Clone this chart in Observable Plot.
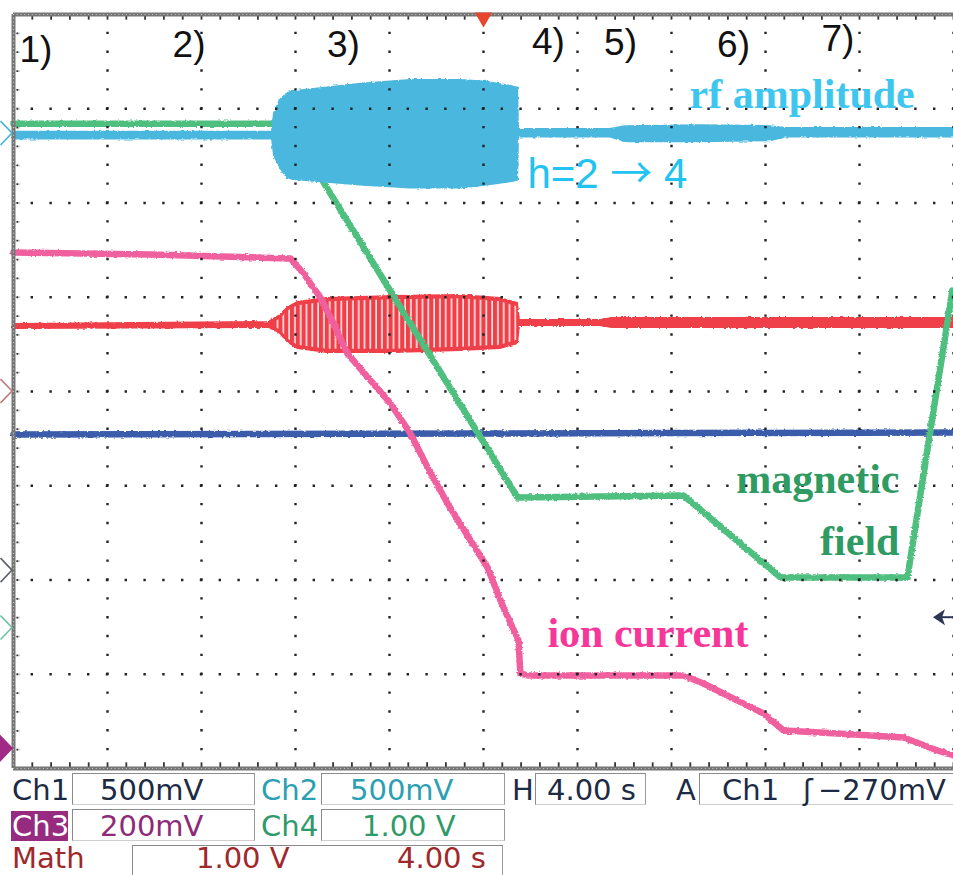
<!DOCTYPE html>
<html><head><meta charset="utf-8">
<script src="https://cdn.jsdelivr.net/npm/d3@7"></script>
<script src="https://cdn.jsdelivr.net/npm/@observablehq/plot@0.6"></script>
<style>
html,body{margin:0;padding:0;background:#fff;width:953px;height:875px;overflow:hidden;}
#wrap{position:relative;width:953px;height:875px;overflow:hidden;}
#status{position:absolute;left:0;top:0;width:953px;height:875px;font-family:"DejaVu Sans",sans-serif;font-size:29px;pointer-events:none;}
.lab{position:absolute;line-height:1;white-space:nowrap;}
.box{position:absolute;box-sizing:border-box;border-top:1.5px solid #8a8a8a;border-left:1.5px solid #8a8a8a;border-right:1.5px solid #9a9a9a;border-bottom:1px solid #cfcfcf;}
</style></head>
<body><div id="wrap"><div id="chart"></div><div id="status"></div></div>
<script>
// ---------- data (time in s, 4 s/div; values in vertical divisions) ----------
// rf amplitude (envelope of the rf signal)
const rfTime  = [0, 11.02, 11.11, 11.36, 11.66, 11.91, 13.36, 14.77, 16.89, 19.02, 20.17, 21.28, 21.45, 21.49, 25.40, 26.04, 29.23, 32.21, 32.85, 40.0];
const rfUpper = [2.75, 2.75, 2.95, 3.09, 3.16, 3.18, 3.22, 3.26, 3.30, 3.30, 3.28, 3.23, 3.22, 2.78, 2.78, 2.81, 2.82, 2.81, 2.79, 2.79];
const rfLower = [2.68, 2.68, 2.50, 2.37, 2.27, 2.25, 2.22, 2.19, 2.16, 2.16, 2.19, 2.23, 2.24, 2.70, 2.70, 2.65, 2.65, 2.66, 2.70, 2.70];
// red channel (envelope)
const redTime  = [0, 10.85, 11.15, 11.36, 11.70, 12.09, 13.36, 16.17, 19.02, 20.72, 21.45, 21.53, 24.98, 25.49, 40.0];
const redUpper = [0.711, 0.732, 0.775, 0.806, 0.891, 0.944, 0.987, 1.008, 1.019, 0.987, 0.934, 0.753, 0.753, 0.775, 0.775];
const redLower = [0.668, 0.679, 0.647, 0.615, 0.520, 0.456, 0.414, 0.414, 0.435, 0.456, 0.509, 0.700, 0.700, 0.679, 0.679];
// blue channel
const blueTime = [0, 20, 40];
const blueValue = [-0.456, -0.445, -0.435];
// magnetic field
const fieldTime  = [0, 11.66, 21.45, 28.51, 32.64, 38.04, 39.95];
const fieldValue = [2.84, 2.84, -1.125, -1.103, -1.973, -1.973, 1.07];
// ion current
const ionTime  = [0, 5.83, 11.79, 12.34, 13.06, 13.62, 14.21, 15.19, 16.04, 16.89, 17.62, 18.47, 19.45, 20.17, 20.85, 21.49, 21.57, 21.87, 28.51, 29.36, 30.81, 31.91, 32.77, 35.06, 37.87, 39.32, 40.0];
const ionValue = [1.475, 1.454, 1.411, 1.252, 0.997, 0.722, 0.403, 0.117, -0.127, -0.446, -0.806, -1.188, -1.581, -1.867, -2.292, -2.642, -2.992, -3.013, -3.013, -3.098, -3.279, -3.416, -3.597, -3.629, -3.671, -3.809, -3.862];
// phase labels
const phaseLabels = ["1)", "2)", "3)", "4)", "5)", "6)", "7)"];
const phaseTime   = [0.25, 6.77, 13.34, 22.06, 25.13, 29.94, 34.38];
const phaseLevel  = [3.491, 3.544, 3.544, 3.586, 3.565, 3.544, 3.618];
// channel reference markers on the left edge
const markerLevel = [2.737, 0.0, -1.90, -2.51, -3.79];
const markerColor = ["#3fb3d8", "#c07a78", "#5a5f6a", "#6cc0a8", "#a02a86"];
const markerFilled = [false, false, false, false, true];

const rf = rfTime.map((t, i) => ({t, hi: rfUpper[i], lo: rfLower[i]}));
const red = redTime.map((t, i) => ({t, hi: redUpper[i], lo: redLower[i]}));
const burst = red.filter(d => d.t > 11.1 && d.t < 21.5);
const blue = blueTime.map((t, i) => ({t, v: blueValue[i]}));
const field = fieldTime.map((t, i) => ({t, v: fieldValue[i]}));
const ion = ionTime.map((t, i) => ({t, v: ionValue[i]}));
const phases = phaseLabels.map((s, i) => ({s, t: phaseTime[i], v: phaseLevel[i]}));

const majorX = d3.range(0, 40.001, 4);
const majorY = d3.range(-4, 4.001, 1);
const minorX = d3.range(0, 40.001, 0.8);
const minorY = d3.range(-4, 4.001, 0.2);

const svg = Plot.plot({
  width: 953, height: 772,
  marginLeft: 13, marginRight: 0, marginTop: 14, marginBottom: 4,
  x: {domain: [0, 40], axis: null},
  y: {domain: [-4, 4], axis: null},
  style: {background: "#fff", overflow: "visible"},
  marks: [
    Plot.areaY(red, {x: "t", y1: "lo", y2: "hi", fill: "#ef3f49", stroke: "#ef3f49", strokeWidth: 2}),
    Plot.areaY(burst, {x: "t", y1: d => d.lo + 0.035, y2: d => d.hi - 0.035, fill: "url(#redStripes)"}),
    Plot.line(blue, {x: "t", y: "v", stroke: "#3a5cab", strokeWidth: 6.5}),
    Plot.line(ion, {x: "t", y: "v", stroke: "#f0619f", strokeWidth: 6.5, strokeLinejoin: "round"}),
    Plot.line(field, {x: "t", y: "v", stroke: "#50bf80", strokeWidth: 6.5, strokeLinejoin: "round"}),
    Plot.areaY(rf, {x: "t", y1: "lo", y2: "hi", fill: "#4ab7de", stroke: "#4ab7de", strokeWidth: 2}),
    // dotted graticule
    Plot.ruleX(majorX, {x: d => d, stroke: "#222", strokeWidth: 2.4, strokeDasharray: "2.4,16.45", strokeDashoffset: 1.2}),
    Plot.ruleY(majorY, {y: d => d, stroke: "#222", strokeWidth: 2.4, strokeDasharray: "2.4,16.4", strokeDashoffset: 1.2}),
    // border ticks
    Plot.ruleX(minorX, {x: d => d, y1: 4, y2: 3.94, stroke: "#333", strokeWidth: 1.8}),
    Plot.ruleX(minorX, {x: d => d, y1: -4, y2: -3.94, stroke: "#333", strokeWidth: 1.8}),
    Plot.ruleY(minorY, {y: d => d, x1: 0, x2: 0.3, stroke: "#333", strokeWidth: 1.8, strokeDasharray: "2,1.4"}),
    // frame (ruler-like)
    Plot.ruleX([0], {x: d => d, stroke: "#767676", strokeWidth: 4}),
    Plot.ruleY([4, -4], {y: d => d, stroke: "#767676", strokeWidth: 4}),
    Plot.ruleX([0], {x: d => d, stroke: "#c8c8c8", strokeWidth: 1.2, strokeDasharray: "1,2.77"}),
    Plot.ruleY([4, -4], {y: d => d, stroke: "#c8c8c8", strokeWidth: 1.2, strokeDasharray: "1,2.76"}),
    // trigger position marker
    Plot.dot([20], {x: d => d, frameAnchor: "top", symbol: "triangle", rotate: 180, r: 6.5, fill: "#e8452e", dy: 3}),
    // phase numbers
    Plot.text(phases, {x: "t", y: "v", text: "s", textAnchor: "start", lineAnchor: "bottom", fontFamily: "Liberation Sans, Arial, sans-serif", fontSize: 37, fill: "#111"}),
    // annotations
    Plot.text(["rf amplitude"], {x: 28.77, y: 3.013, text: d => d, textAnchor: "start", lineAnchor: "bottom", fontFamily: "Liberation Serif, Times New Roman, serif", fontWeight: "bold", fontSize: 42, fill: "#3ec6ef"}),
    Plot.text(["h=2 \u2192 4"], {x: 21.87, y: 2.154, text: d => d, textAnchor: "start", lineAnchor: "bottom", fontFamily: "Liberation Sans, Arial, sans-serif", fontSize: 42, fill: "#22c3f2"}),
    Plot.text(["magnetic", "field"], {x: 37.70, y: [-1.082, -1.740], text: d => d, textAnchor: "end", lineAnchor: "bottom", fontFamily: "Liberation Serif, Times New Roman, serif", fontWeight: "bold", fontSize: 42, fill: "#2f9a62"}),
    Plot.text(["ion current"], {x: 22.72, y: -2.716, text: d => d, textAnchor: "start", lineAnchor: "bottom", fontFamily: "Liberation Serif, Times New Roman, serif", fontWeight: "bold", fontSize: 42, fill: "#f7369a"})
  ]
});

const sel = d3.select(svg);
sel.insert("defs", ":first-child").html(
  '<pattern id="redStripes" patternUnits="userSpaceOnUse" width="5.8" height="10"><rect x="4.2" y="0" width="1.5" height="10" fill="#fff2f2"/></pattern>' +
  '<filter id="noise" filterUnits="userSpaceOnUse" x="0" y="0" width="953" height="772">' +
  '<feTurbulence type="fractalNoise" baseFrequency="0.3 0.5" numOctaves="2" seed="3" result="n"/>' +
  '<feDisplacementMap in="SourceGraphic" in2="n" scale="3" xChannelSelector="R" yChannelSelector="G"/></filter>');
// noisy scope traces (not the stripe overlay)
sel.selectAll('g[aria-label="line"]').attr("filter", "url(#noise)");
sel.selectAll('g[aria-label="area"]').filter((d, i) => i !== 1).attr("filter", "url(#noise)");
// use a longer, thin arrow glyph in the harmonic label
sel.selectAll('g[aria-label="text"] text').each(function () {
  if (this.textContent.includes("\u2192")) {
    const parts = this.textContent.split("\u2192");
    this.textContent = "";
    const ns = "http://www.w3.org/2000/svg";
    const a = document.createElementNS(ns, "tspan"); a.textContent = parts[0];
    const b = document.createElementNS(ns, "tspan"); b.textContent = "\u2192"; b.setAttribute("font-family", "Noto Sans CJK SC");
    const c = document.createElementNS(ns, "tspan"); c.textContent = parts[1];
    this.append(a, b, c);
  }
});
const ys = svg.scale("y"), xs = svg.scale("x");
markerLevel.forEach((v, i) => {
  const y = ys.apply(v);
  sel.append("path")
    .attr("d", `M0.5,${y - 12}L12,${y}L0.5,${y + 12}` + (markerFilled[i] ? "Z" : ""))
    .attr("fill", markerFilled[i] ? markerColor[i] : "none")
    .attr("stroke", markerColor[i]).attr("stroke-width", 1.6);
});
// ground-ref arrow at right edge
{
  const y = ys.apply(-2.40), x = xs.apply(39.15);
  sel.append("path").attr("d", `M${x},${y}L${x + 12},${y - 8}L${x + 9},${y}L${x + 12},${y + 8}Z`).attr("fill", "#2c3756");
  sel.append("line").attr("x1", x + 8).attr("x2", 953).attr("y1", y).attr("y2", y).attr("stroke", "#2c3756").attr("stroke-width", 2);
}
document.getElementById("chart").appendChild(svg);

// ---------- status bar ----------
const st = document.getElementById("status");
const rows = [801, 837, 869];     // baselines
const asc = 0.846 * 29;
function lab(text, x, row, color, extra) {
  const d = document.createElement("div");
  d.className = "lab"; d.textContent = text;
  d.style.left = x + "px"; d.style.top = (rows[row] - asc) + "px"; d.style.color = color;
  if (extra) Object.assign(d.style, extra);
  st.appendChild(d);
}
function box(x1, x2, y1, y2) {
  const d = document.createElement("div");
  d.className = "box";
  Object.assign(d.style, {left: x1 + "px", top: y1 + "px", width: (x2 - x1) + "px", height: (y2 - y1) + "px"});
  st.appendChild(d);
}
const ink = "#1c2b45", teal = "#2b9fb3", purple = "#8e2a78", green = "#2e9a68", maroon = "#a0282c";
box(72, 255, 773, 805); box(321, 505, 773, 805); box(535, 646, 773, 805); box(699, 990, 773, 805);
box(72, 255, 809, 841); box(321, 505, 809, 841);
box(132, 503, 845, 880);
const bg = document.createElement("div");
Object.assign(bg.style, {position: "absolute", left: "11px", top: "811px", width: "57px", height: "30px", background: "#962b80"});
st.appendChild(bg);
lab("Ch1", 12, 0, ink); lab("500mV", 100, 0, ink);
lab("Ch2", 261, 0, teal); lab("500mV", 350, 0, teal);
lab("H", 512, 0, ink); lab("4.00 s", 547, 0, ink);
lab("A", 676, 0, ink); lab("Ch1", 722, 0, ink); lab("\u0283", 803, 0, ink); lab("\u2212270mV", 818, 0, ink);
lab("Ch3", 12, 1, "#fff"); lab("200mV", 100, 1, purple);
lab("Ch4", 261, 1, green); lab("1.00 V", 362, 1, green);
lab("Math", 12, 2, maroon); lab("1.00 V", 196, 2, maroon); lab("4.00 s", 397, 2, maroon);
</script>
</body></html>
